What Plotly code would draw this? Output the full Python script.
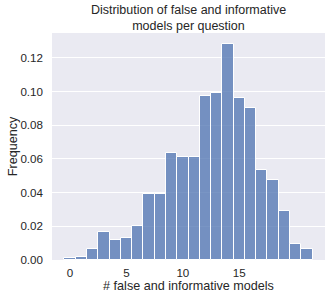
import plotly.graph_objects as go

bins = list(range(22))
freq = [0.001, 0.002, 0.0067, 0.0167, 0.0117, 0.0129, 0.0202, 0.0389, 0.0389, 0.0633,
        0.0609, 0.0609, 0.0976, 0.099, 0.1284, 0.0964, 0.0905, 0.0536, 0.0474, 0.029,
        0.0095, 0.0067]
xticks = [0, 5, 10, 15]
yticks = [0.0, 0.02, 0.04, 0.06, 0.08, 0.10, 0.12]

fig = go.Figure(go.Bar(
    x=bins, y=freq, width=1,
    marker=dict(color="rgba(76,114,176,0.75)", line=dict(color="white", width=1)),
))

font = "Liberation Sans, Arial, sans-serif"
fig.update_layout(
    width=332, height=300,
    margin=dict(l=52, r=7, t=33, b=40),
    paper_bgcolor="white", plot_bgcolor="#EAEAF2",
    font=dict(family=font, size=11.6, color="#262626"),
    title=dict(text="Distribution of false and informative<br>models per question",
               x=0.5, xref="paper", xanchor="center", y=0.955, yanchor="top",
               font=dict(size=12.5, color="#262626")),
    showlegend=False, bargap=0,
)
fig.update_xaxes(range=[-1.6, 22.6], tickvals=xticks, ticktext=[str(t) for t in xticks],
                 showgrid=False, zeroline=False, ticks="", ticklabelstandoff=4,
                 title=dict(text="# false and informative models", standoff=2,
                            font=dict(size=12.6)))
fig.update_yaxes(range=[0, 0.1348], tickvals=yticks, ticktext=[f"{t:.2f}" for t in yticks],
                 showgrid=True, gridcolor="white", gridwidth=1, zeroline=False, ticks="",
                 ticklabelstandoff=8,
                 title=dict(text="Frequency", standoff=0, font=dict(size=12.6)))
fig.write_html("out.html", config={"displayModeBar": False},
               post_script="document.body.style.margin='0';")
